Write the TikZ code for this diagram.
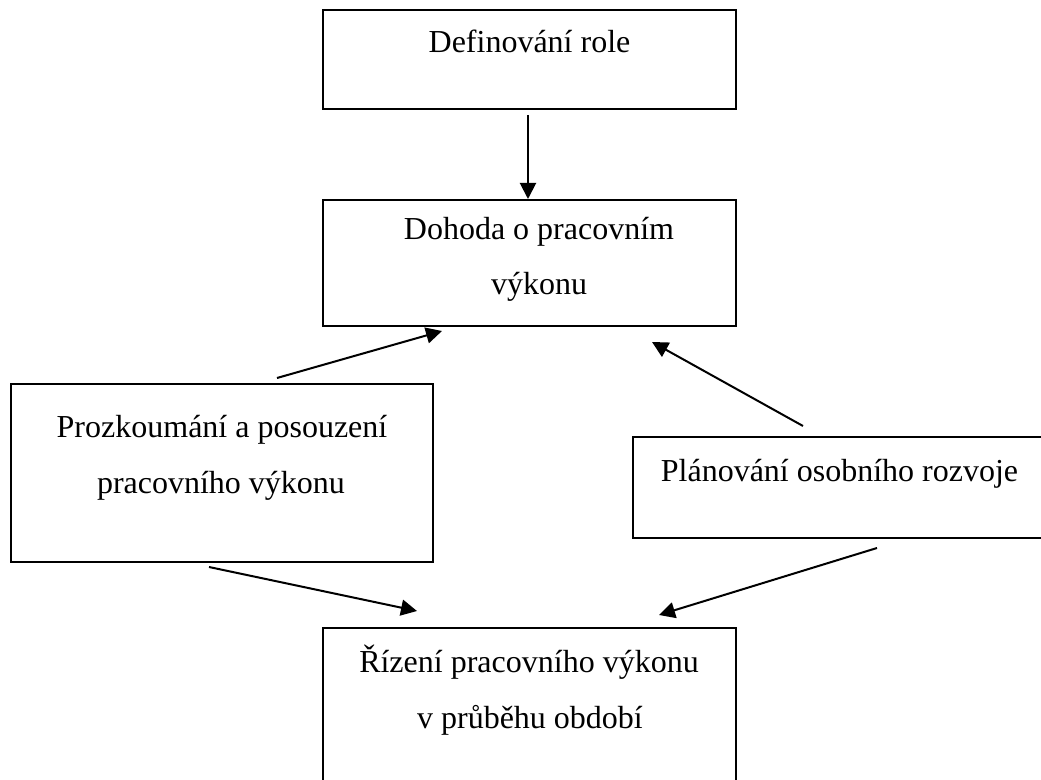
\documentclass[tikz,border=0pt]{standalone}
\usepackage{fontspec}
\setmainfont{Liberation Serif}
\usetikzlibrary{arrows.meta,fit}
\begin{document}
\begin{tikzpicture}[x=0.5pt,y=-0.5pt,
  box/.style={draw,line width=1pt,rectangle,inner sep=0pt,outer sep=0pt},
  lbl/.style={anchor=base,inner sep=0pt,font=\fontsize{16}{19}\selectfont},
  arr/.style={line width=1pt,-{Triangle[length=8pt,width=8pt]}}]
\useasboundingbox (0,0) rectangle (1041,780);
\clip (0,0) rectangle (1041,780);
% boxes
\node[box,fit={(323,10) (736,109)}] (b1) {};
\node[box,fit={(323,200) (736,326)}] (b2) {};
\node[box,fit={(11,384) (433,562)}] (b3) {};
\node[box,fit={(633,437) (1048,538)}] (b4) {};
\node[box,fit={(323,628) (736,810)}] (b5) {};
% texts
\node[lbl] (t1) at (529.5,53) {Definování role};
\node[lbl] (t2a) at (539,240) {Dohoda o pracovním};
\node[lbl] (t2b) at (539,295) {výkonu};
\node[lbl] (t3a) at (222,438) {Prozkoumání a posouzení};
\node[lbl] (t3b) at (221,494) {pracovního výkonu};
\node[lbl] (t4) at (839.5,482) {Plánování osobního rozvoje};
\node[lbl] (t5a) at (529,673) {Řízení pracovního výkonu};
\node[lbl] (t5b) at (530,729) {v průběhu období};
% connector ends
\coordinate (a1s) at (528,115);  \coordinate (a1e) at (528,199);
\coordinate (a2s) at (277,378);  \coordinate (a2e) at (442,331);
\coordinate (a3s) at (803,426);  \coordinate (a3e) at (652,342);
\coordinate (a4s) at (209,567);  \coordinate (a4e) at (417,611);
\coordinate (a5s) at (877,548);  \coordinate (a5e) at (659,615);
\draw[arr] (a1s) -- (a1e);
\draw[arr] (a2s) -- (a2e);
\draw[arr] (a3s) -- (a3e);
\draw[arr] (a4s) -- (a4e);
\draw[arr] (a5s) -- (a5e);
\end{tikzpicture}
\end{document}
